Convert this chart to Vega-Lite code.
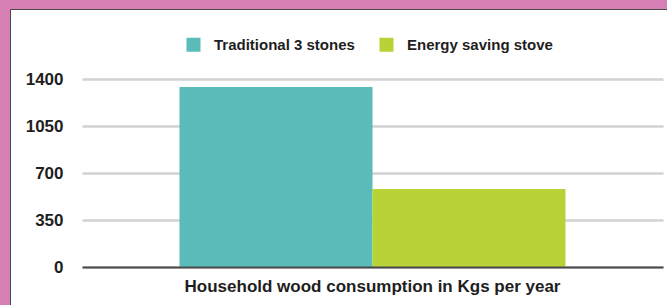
{
  "$schema": "https://vega.github.io/schema/vega-lite/v6.json",
  "width": 658,
  "height": 297,
  "autosize": {"type": "none"},
  "padding": {"left": 10, "top": 9, "right": 0, "bottom": 0},
  "background": "#d67fb5",
  "config": {
    "font": "Liberation Sans",
    "view": {"fill": "white", "stroke": "#4a4a4a", "strokeWidth": 1}
  },
  "data": {
    "values": [
      {"measure": "Household wood consumption in Kgs per year", "stove": "Traditional 3 stones", "kg": 1340},
      {"measure": "Household wood consumption in Kgs per year", "stove": "Energy saving stove", "kg": 580}
    ]
  },
  "mark": {"type": "bar"},
  "encoding": {
    "x": {
      "field": "measure",
      "type": "nominal",
      "scale": {"range": [72, 653], "paddingInner": 0, "paddingOuter": 0.2526},
      "axis": {
        "title": null,
        "orient": "bottom",
        "offset": -39,
        "zindex": 2,
        "domainColor": "#4a4a4a",
        "domainWidth": 2,
        "ticks": false,
        "labelFontSize": 17,
        "labelFontWeight": "bold",
        "labelColor": "#1e1e1e",
        "labelPadding": 11,
        "labelAngle": 0,
        "labelLimit": 0,
        "grid": false
      }
    },
    "xOffset": {
      "field": "stove",
      "type": "nominal",
      "sort": ["Traditional 3 stones", "Energy saving stove"],
      "scale": {"paddingInner": 0, "paddingOuter": 0}
    },
    "y": {
      "field": "kg",
      "type": "quantitative",
      "scale": {"domain": [0, 1400], "range": [258, 70], "nice": false, "zero": true},
      "axis": {
        "title": null,
        "orient": "left",
        "offset": -72,
        "values": [0, 350, 700, 1050, 1400],
        "format": "d",
        "domain": false,
        "ticks": false,
        "grid": true,
        "gridColor": "#d2d2d2",
        "gridWidth": 2.5,
        "labelFontSize": 17,
        "labelFontWeight": "bold",
        "labelColor": "#1e1e1e",
        "labelPadding": 19
      }
    },
    "color": {
      "field": "stove",
      "type": "nominal",
      "sort": ["Traditional 3 stones", "Energy saving stove"],
      "scale": {"domain": ["Traditional 3 stones", "Energy saving stove"], "range": ["#5abbb8", "#b9d236"]},
      "legend": {
        "title": null,
        "orient": "none",
        "legendX": 176,
        "legendY": 28,
        "direction": "horizontal",
        "padding": 0,
        "symbolType": "square",
        "symbolSize": 196,
        "symbolStrokeWidth": 0,
        "labelFontSize": 15,
        "labelFontWeight": "bold",
        "labelColor": "#1e1e1e",
        "labelOffset": 13,
        "columnPadding": 24
      }
    }
  }
}
